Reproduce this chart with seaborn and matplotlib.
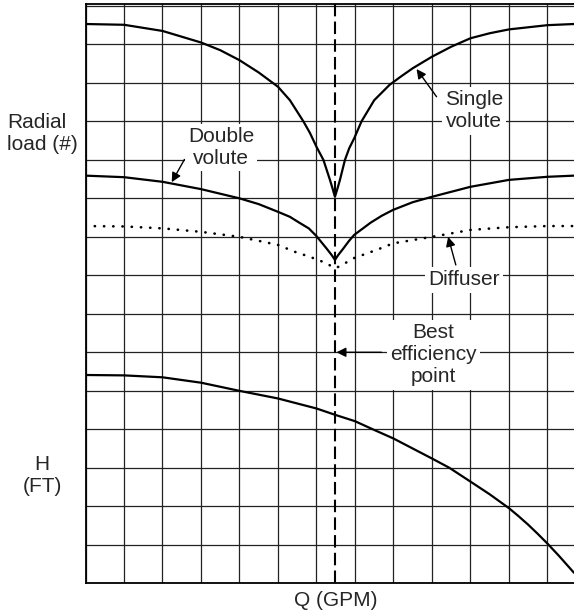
import numpy as np
import pandas as pd
import matplotlib
matplotlib.use("Agg")
import matplotlib.pyplot as plt
import seaborn as sns

# значения (единицы сетки)
q_single = [0, 1, 2, 3, 3.5, 4, 4.5, 5.0, 5.31, 5.66, 5.83, 6.0, 6.18, 6.35, 6.42, 6.48,
            6.55, 6.61, 6.74, 6.85, 6.98, 7.17, 7.5, 7.9, 8.2, 8.5, 9.0, 9.5, 10.0, 10.5,
            11.0, 12.0, 12.69]
single_volute = [14.53, 14.51, 14.35, 14.05, 13.85, 13.59, 13.27, 12.9, 12.55, 12.0, 11.7, 11.34,
                 11.0, 10.48, 10.25, 10.04,
                 10.27, 10.48, 11.0, 11.3, 11.56, 12.0, 12.55, 12.95, 13.17, 13.38, 13.68, 13.94,
                 14.16, 14.29, 14.39, 14.5, 14.53]

q_double = [0, 1, 2, 3, 4, 4.5, 5.0, 5.31, 5.55, 5.8, 5.99, 6.26, 6.4, 6.48,
            6.56, 6.7, 6.85, 6.98, 7.41, 7.7, 7.99, 8.5, 9.0, 10.0, 11.0, 12.0, 12.69]
double_volute = [10.59, 10.55, 10.43, 10.24, 10.0, 9.85, 9.65, 9.52, 9.37, 9.22, 9.03, 8.7, 8.52, 8.4,
                 8.52, 8.7, 8.9, 9.05, 9.37, 9.55, 9.7, 9.9, 10.04, 10.3, 10.48, 10.56, 10.59]

q_diff = [0, 1, 2, 3, 4, 5.0, 5.44, 5.83, 6.22, 6.44, 6.5,
          6.61, 6.98, 7.56, 7.99, 9.0, 10.0, 11.0, 12.0, 12.69]
diffuser = [9.28, 9.27, 9.22, 9.13, 9.0, 8.79, 8.61, 8.48, 8.33, 8.21, 8.19,
            8.24, 8.45, 8.66, 8.83, 9.0, 9.18, 9.25, 9.28, 9.28]

q_head = [0, 1, 2, 3, 3.99, 5, 6, 6.5, 7, 7.46, 8, 8.5, 9, 9.45, 10, 10.5, 11, 11.24,
          11.5, 11.74, 12, 12.3, 12.69]
head = [5.41, 5.4, 5.35, 5.21, 5.0, 4.8, 4.54, 4.37, 4.21, 4.0, 3.76, 3.5, 3.24, 3.0, 2.64,
        2.31, 1.95, 1.75, 1.52, 1.29, 1.03, 0.71, 0.27]

bep_q = 6.48

sns.set_style("white")
plt.rcParams['font.family'] = ['Liberation Sans', 'DejaVu Sans']

fig = plt.figure(figsize=(5.74, 6.14), dpi=100)
ax = fig.add_axes([85.5 / 574, 30.8 / 614, 488.5 / 574, 579.2 / 614])

ax.set_xlim(0, 12.69)
ax.set_ylim(0, 15.05)
ax.set_xticks(np.arange(0, 13))
ax.set_yticks(np.arange(0, 16))
ax.tick_params(length=0, labelbottom=False, labelleft=False)
ax.set_axisbelow(True)
ax.grid(True, color="#222222", lw=0.9)
for side in ["left", "bottom", "top"]:
    ax.spines[side].set_color("black")
    ax.spines[side].set_linewidth(1.3)
ax.spines["right"].set_visible(False)

sns.lineplot(x=q_single, y=single_volute, ax=ax, color="black", lw=1.6, zorder=2)
sns.lineplot(x=q_double, y=double_volute, ax=ax, color="black", lw=1.6, zorder=2)
sns.lineplot(x=q_diff, y=diffuser, ax=ax, color="black", lw=1.9,
             linestyle=(0, (0.1, 3.4)), dash_capstyle="round", zorder=2)
sns.lineplot(x=q_head, y=head, ax=ax, color="black", lw=1.6, zorder=2)
ax.axvline(bep_q, color="black", lw=1.5, linestyle=(0, (6, 2.5)), zorder=2)

box = dict(boxstyle="square,pad=0.15", fc="white", ec="none")
arrow = dict(arrowstyle="-|>", color="black", lw=1.0, mutation_scale=14,
             shrinkA=0, shrinkB=0)
fs = 15

ax.text(3.52, 11.33, "Double\nvolute", ha="center", va="center", fontsize=fs,
        bbox=box, zorder=3)
ax.annotate("", xy=(2.24, 10.42), xytext=(2.57, 11.01), arrowprops=arrow, zorder=4)

ax.text(10.09, 12.27, "Single\nvolute", ha="center", va="center", fontsize=fs,
        bbox=box, zorder=3)
ax.annotate("", xy=(8.6, 13.36), xytext=(9.12, 12.64), arrowprops=arrow, zorder=4)

ax.text(9.83, 7.88, "Diffuser", ha="center", va="center", fontsize=fs,
        bbox=box, zorder=3)
ax.annotate("", xy=(9.42, 9.0), xytext=(9.62, 8.27), arrowprops=arrow, zorder=4)

ax.text(9.04, 5.93, "Best\nefficiency\npoint", ha="center", va="center", fontsize=fs,
        bbox=box, zorder=3)
ax.annotate("", xy=(6.52, 6.0), xytext=(7.69, 6.0), arrowprops=arrow, zorder=4)

fig.text(7 / 574, 1 - 134 / 614, "Radial\nload (#)", ha="left", va="center", fontsize=fs)
fig.text(42 / 574, 1 - 475 / 614, "H\n(FT)", ha="center", va="center", fontsize=fs)
fig.text(335.7 / 574, 1 - 601 / 614, "Q (GPM)", ha="center", va="center", fontsize=fs)

plt.savefig("out.png", dpi=100)
plt.close()
